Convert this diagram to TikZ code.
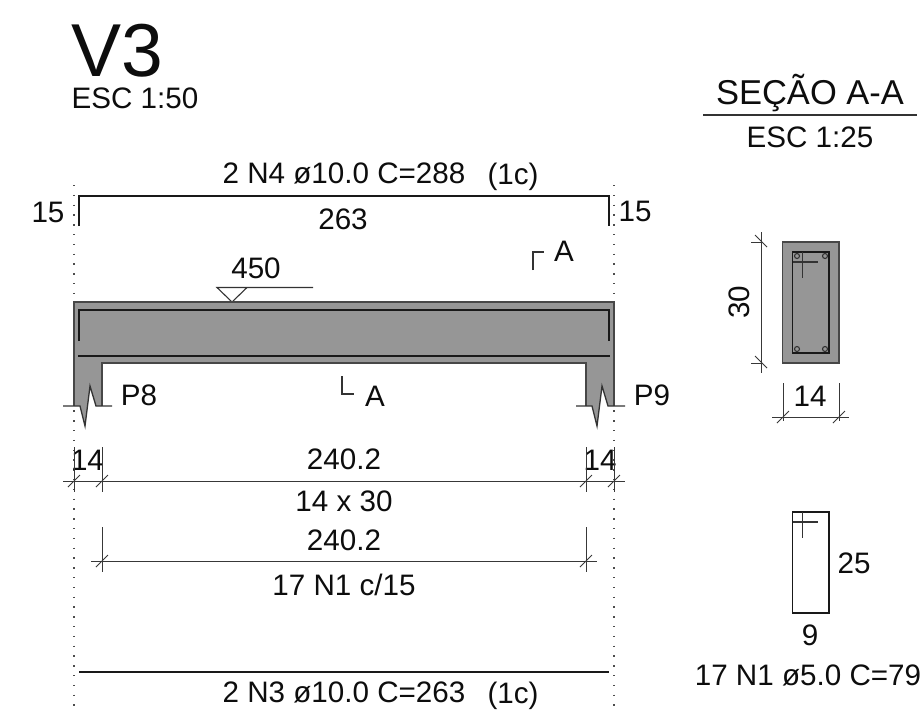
\documentclass[tikz,border=0pt]{standalone}
\usepackage{fontspec}
\setmainfont{Liberation Sans}
\tikzset{
 lbl/.style={inner sep=0pt,font=\fontsize{29.6}{29.6}\selectfont,text=black!95},
 outl/.style={draw=black!72,line width=1.7pt},
 bar/.style={draw=black!90,line width=2.1pt},
 dim/.style={draw=black!78,line width=1.0pt},
 guide/.style={draw=black!70,line width=1.4pt,dash pattern=on 1.4pt off 8.4pt},
 thin/.style={draw=black!80,line width=1.1pt}
}
\begin{document}
\begin{tikzpicture}[x=1pt,y=-1pt,line join=miter]
\useasboundingbox[fill=white] (0,0) rectangle (924,716);
% titles
\node[lbl,font=\fontsize{75}{75}\selectfont] (t1) at (117.5,51) {V3};
\node[lbl] (t2) at (135,98.5) {ESC 1:50};
\node[lbl,font=\fontsize{34.5}{34.5}\selectfont] (t3) at (810,93) {SEÇÃO A-A};
\node[lbl] (t4) at (810,137.5) {ESC 1:25};
\coordinate (u1) at (703,115); \coordinate (u2) at (917,115);
\draw[thin] (u1) -- (u2);
% guides
\coordinate (ga) at (74,185); \coordinate (gb) at (74,708);
\coordinate (gc) at (614,185); \coordinate (gd) at (614,708);
\draw[guide] (ga) -- (gb);
\draw[guide] (gc) -- (gd);
% top bar
\node[lbl] (n4) at (344,173.5) {2 N4 ø10.0 C=288};
\node[lbl] (c1) at (513,177) {(1c)};
\node[lbl] (l15) at (48,212) {15};
\node[lbl] (r15) at (635,211) {15};
\node[lbl] (n263) at (343,219) {263};
\coordinate (b1) at (79,226); \coordinate (b2) at (79,196);
\coordinate (b3) at (609,196); \coordinate (b4) at (609,226);
\draw[bar] (b1) -- (b2) -- (b3) -- (b4);
% section mark
\node[lbl] (sa1) at (564,251) {A};
\coordinate (m1) at (533,270); \coordinate (m2) at (533,252); \coordinate (m3) at (544,252);
\draw[thin] (m1) -- (m2) -- (m3);
% level
\node[lbl] (lv) at (256,268) {450};
\coordinate (v1) at (217,287.5); \coordinate (v2) at (232,302); \coordinate (v3) at (247,287.5); \coordinate (v4) at (313,287.5);
\draw[thin] (v4) -- (v1) -- (v2) -- (v3);
% beam
\fill[black!41] (74,302) -- (614,302) -- (614,406) -- (608,406) -- (602,386) -- (597,426) -- (592,406) -- (586,406) -- (586,363) -- (102,363) -- (102,406) -- (96,406) -- (90,386) -- (85,426) -- (80,406) -- (74,406) -- cycle;
\draw[outl] (74,406) -- (74,302) -- (614,302) -- (614,406);
\draw[outl] (102,406) -- (102,363) -- (586,363) -- (586,406);
\coordinate (pl1) at (63,406); \coordinate (pl2) at (80,406); \coordinate (pl3) at (85,426); \coordinate (pl4) at (90,386); \coordinate (pl5) at (96,406); \coordinate (pl6) at (112,406);
\draw[thin,line width=1.3pt] (pl1) -- (pl2) -- (pl3) -- (pl4) -- (pl5) -- (pl6);
\coordinate (pr1) at (576,406); \coordinate (pr2) at (592,406); \coordinate (pr3) at (597,426); \coordinate (pr4) at (602,386); \coordinate (pr5) at (608,406); \coordinate (pr6) at (625,406);
\draw[thin,line width=1.3pt] (pr1) -- (pr2) -- (pr3) -- (pr4) -- (pr5) -- (pr6);
\coordinate (i1) at (79,341); \coordinate (i2) at (79,310); \coordinate (i3) at (609,310); \coordinate (i4) at (609,341);
\draw[bar] (i1) -- (i2) -- (i3) -- (i4);
\coordinate (j1) at (78,356); \coordinate (j2) at (610,356);
\draw[bar] (j1) -- (j2);
\node[lbl] (p8) at (139,395) {P8};
\node[lbl] (p9) at (652,395) {P9};
\node[lbl] (sa2) at (375,396.5) {A};
\coordinate (q1) at (342,376); \coordinate (q2) at (342,394); \coordinate (q3) at (354,394);
\draw[thin] (q1) -- (q2) -- (q3);
% dim 1
\node[lbl] (d14a) at (87.5,460) {14};
\node[lbl] (d240a) at (344,459.5) {240.2};
\node[lbl] (d14b) at (600,460) {14};
\node[lbl] (s1430) at (344,501.5) {14 x 30};
\coordinate (e1) at (63,481); \coordinate (e2) at (625,481);
\draw[dim] (e1) -- (e2);
\foreach \x in {74,102,586,614}{
 \draw[dim] (\x,447) -- (\x,492);
 \draw[dim] (\x-6,487) -- (\x+6,475);
}
% dim 2
\node[lbl] (d240b) at (344,540.5) {240.2};
\node[lbl] (n1c) at (344,585) {17 N1 c/15};
\coordinate (f1) at (91,561); \coordinate (f2) at (597,561);
\draw[dim] (f1) -- (f2);
\foreach \x in {102,586}{
 \draw[dim] (\x,527) -- (\x,572);
 \draw[dim] (\x-6,567) -- (\x+6,555);
}
% bottom bar
\coordinate (h1) at (79,672); \coordinate (h2) at (609,672);
\draw[bar] (h1) -- (h2);
\node[lbl] (n3) at (344,692.5) {2 N3 ø10.0 C=263};
\node[lbl] (c2) at (513,696) {(1c)};
% section
\fill[black!41,draw=black!72,line width=1.5pt] (782.5,242) rectangle (839,363);
\draw[bar,line width=1.9pt] (792.5,252) rectangle (829,353);
\draw[thin,line width=1.6pt] (793,262) -- (818,262);
\draw[thin,line width=1.6pt] (802.5,252) -- (802.5,278);
\foreach \cx/\cy in {797/256,825/256,797/349,825/349}{
 \draw[draw=black!80,line width=1.1pt] (\cx,\cy) circle (2.5);
}
\node[lbl,rotate=90] (d30) at (739,302) {30};
\coordinate (k1) at (761,232); \coordinate (k2) at (761,373);
\draw[dim] (k1) -- (k2);
\foreach \y in {242,363}{
 \draw[dim] (751,\y) -- (763,\y);
 \draw[dim] (755,\y-7) -- (767,\y+5);
}
\node[lbl] (d14c) at (810,396) {14};
\coordinate (k3) at (772,417); \coordinate (k4) at (849,417);
\draw[dim] (k3) -- (k4);
\foreach \x in {783,839}{
 \draw[dim] (\x,383) -- (\x,421);
 \draw[dim] (\x-6,423) -- (\x+6,411);
}
% stirrup
\draw[bar,line width=1.8pt] (792.5,512) rectangle (829,613);
\draw[thin,line width=1.3pt] (792.5,522) -- (818,522);
\draw[thin,line width=1.3pt] (802.5,512) -- (802.5,538);
\node[lbl] (d25) at (854,563) {25};
\node[lbl] (d9) at (810,635) {9};
\node[lbl] (n1) at (808,675) {17 N1 ø5.0 C=79};
\end{tikzpicture}
\end{document}
